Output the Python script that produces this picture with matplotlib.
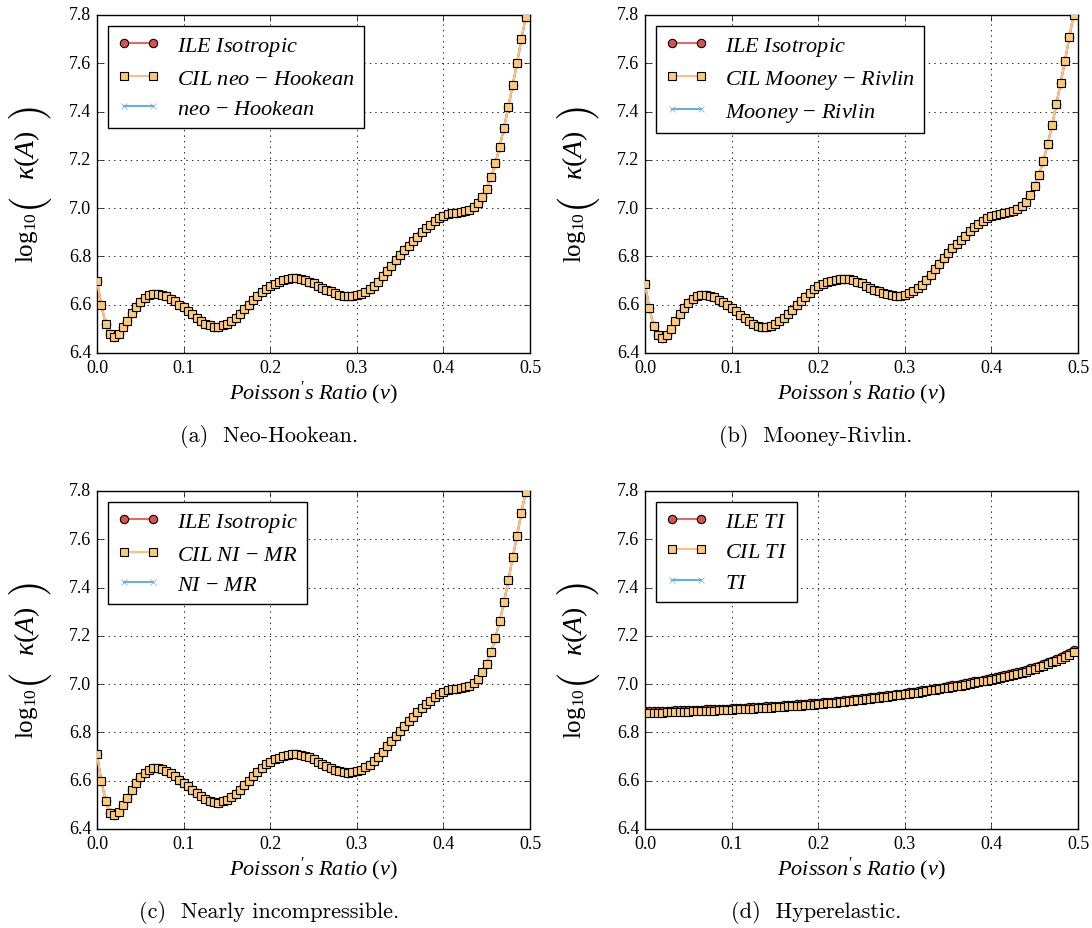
import numpy as np
import matplotlib
matplotlib.use("Agg")
import matplotlib.pyplot as plt

plt.style.use("classic")
plt.rcParams["font.family"] = ["Liberation Serif", "DejaVu Serif"]
plt.rcParams["mathtext.fontset"] = "custom"
plt.rcParams["mathtext.rm"] = "Liberation Serif"
plt.rcParams["mathtext.it"] = "Liberation Serif:italic"
plt.rcParams["mathtext.bf"] = "Liberation Serif:bold"
plt.rcParams["figure.facecolor"] = "white"
plt.rcParams["savefig.facecolor"] = "white"

# Poisson's ratio grid (0 .. 0.495, step 0.005)
nu = np.round(np.arange(100) * 0.005, 3)

# log10 condition numbers
kappa_neo = [
    6.700, 6.597, 6.520, 6.478, 6.467, 6.478, 6.506, 6.533, 6.564, 6.592,
    6.611, 6.628, 6.639, 6.645, 6.646, 6.642, 6.635, 6.625, 6.614, 6.600,
    6.589, 6.575, 6.561, 6.547, 6.533, 6.522, 6.514, 6.508, 6.508, 6.514,
    6.522, 6.533, 6.545, 6.562, 6.581, 6.600, 6.620, 6.636, 6.653, 6.667,
    6.678, 6.686, 6.695, 6.703, 6.707, 6.710, 6.710, 6.707, 6.703, 6.696,
    6.689, 6.679, 6.671, 6.663, 6.656, 6.649, 6.642, 6.638, 6.635, 6.636,
    6.639, 6.646, 6.654, 6.664, 6.678, 6.695, 6.718, 6.740, 6.762, 6.784,
    6.805, 6.825, 6.845, 6.863, 6.881, 6.900, 6.917, 6.931, 6.947, 6.958,
    6.967, 6.974, 6.978, 6.981, 6.983, 6.988, 6.993, 7.004, 7.020, 7.046,
    7.081, 7.127, 7.186, 7.254, 7.333, 7.420, 7.510, 7.600, 7.700, 7.790,
]
kappa_mr = [
    6.686, 6.586, 6.512, 6.473, 6.461, 6.475, 6.500, 6.531, 6.560, 6.586,
    6.607, 6.624, 6.635, 6.640, 6.641, 6.638, 6.631, 6.621, 6.610, 6.597,
    6.585, 6.572, 6.558, 6.545, 6.532, 6.521, 6.513, 6.508, 6.508, 6.513,
    6.521, 6.532, 6.545, 6.561, 6.580, 6.598, 6.617, 6.634, 6.650, 6.664,
    6.676, 6.685, 6.693, 6.700, 6.704, 6.707, 6.707, 6.705, 6.701, 6.695,
    6.688, 6.679, 6.671, 6.663, 6.656, 6.649, 6.643, 6.639, 6.637, 6.638,
    6.641, 6.648, 6.657, 6.668, 6.683, 6.701, 6.724, 6.747, 6.770, 6.792,
    6.813, 6.833, 6.852, 6.869, 6.886, 6.904, 6.920, 6.934, 6.948, 6.958,
    6.966, 6.972, 6.976, 6.980, 6.984, 6.990, 6.996, 7.008, 7.026, 7.053,
    7.090, 7.137, 7.196, 7.265, 7.343, 7.430, 7.520, 7.610, 7.710, 7.800,
]
kappa_nimr = [
    6.710, 6.598, 6.515, 6.468, 6.458, 6.470, 6.500, 6.530, 6.562, 6.592,
    6.615, 6.633, 6.645, 6.651, 6.652, 6.648, 6.641, 6.630, 6.618, 6.604,
    6.591, 6.577, 6.563, 6.549, 6.535, 6.524, 6.516, 6.510, 6.509, 6.514,
    6.522, 6.533, 6.546, 6.562, 6.581, 6.600, 6.620, 6.637, 6.654, 6.668,
    6.679, 6.688, 6.696, 6.704, 6.708, 6.711, 6.711, 6.708, 6.704, 6.697,
    6.689, 6.679, 6.670, 6.661, 6.653, 6.646, 6.640, 6.636, 6.634, 6.635,
    6.639, 6.646, 6.655, 6.666, 6.680, 6.698, 6.720, 6.742, 6.764, 6.786,
    6.807, 6.827, 6.847, 6.865, 6.883, 6.901, 6.918, 6.932, 6.947, 6.958,
    6.967, 6.974, 6.978, 6.981, 6.984, 6.988, 6.994, 7.005, 7.022, 7.049,
    7.085, 7.132, 7.191, 7.260, 7.340, 7.430, 7.525, 7.615, 7.710, 7.795,
]
kappa_ti = [
    6.880, 6.881, 6.881, 6.882, 6.882, 6.883, 6.884, 6.884, 6.885, 6.885,
    6.886, 6.887, 6.887, 6.888, 6.889, 6.889, 6.890, 6.891, 6.892, 6.893,
    6.894, 6.895, 6.896, 6.897, 6.898, 6.899, 6.900, 6.901, 6.902, 6.903,
    6.904, 6.905, 6.906, 6.908, 6.909, 6.910, 6.911, 6.913, 6.914, 6.915,
    6.917, 6.918, 6.920, 6.922, 6.923, 6.925, 6.927, 6.929, 6.931, 6.933,
    6.935, 6.937, 6.939, 6.941, 6.943, 6.945, 6.948, 6.950, 6.953, 6.955,
    6.958, 6.960, 6.963, 6.965, 6.968, 6.971, 6.974, 6.977, 6.980, 6.982,
    6.985, 6.988, 6.991, 6.994, 6.998, 7.001, 7.004, 7.008, 7.011, 7.015,
    7.018, 7.022, 7.026, 7.030, 7.034, 7.039, 7.043, 7.048, 7.052, 7.058,
    7.064, 7.070, 7.076, 7.083, 7.090, 7.097, 7.105, 7.113, 7.122, 7.132,
]
kappa_ile_ti = [
    6.887, 6.887, 6.888, 6.888, 6.889, 6.889, 6.890, 6.891, 6.891, 6.892,
    6.892, 6.893, 6.894, 6.894, 6.895, 6.896, 6.897, 6.897, 6.898, 6.899,
    6.900, 6.901, 6.902, 6.903, 6.904, 6.905, 6.906, 6.907, 6.908, 6.909,
    6.910, 6.911, 6.913, 6.914, 6.915, 6.916, 6.918, 6.919, 6.920, 6.922,
    6.923, 6.925, 6.926, 6.928, 6.930, 6.931, 6.933, 6.935, 6.937, 6.939,
    6.941, 6.943, 6.945, 6.947, 6.949, 6.952, 6.954, 6.956, 6.959, 6.961,
    6.964, 6.966, 6.969, 6.972, 6.974, 6.977, 6.980, 6.983, 6.986, 6.989,
    6.992, 6.995, 6.998, 7.001, 7.004, 7.008, 7.011, 7.015, 7.018, 7.022,
    7.025, 7.029, 7.033, 7.037, 7.041, 7.046, 7.050, 7.055, 7.059, 7.065,
    7.071, 7.077, 7.083, 7.090, 7.097, 7.104, 7.112, 7.120, 7.129, 7.140,
]

panels = [
    ("(a)  Neo-Hookean.", kappa_neo, kappa_neo, kappa_neo,
     [r"$ILE\ Isotropic$", r"$CIL\ neo\,-\,Hookean$", r"$neo\,-\,Hookean$"]),
    ("(b)  Mooney-Rivlin.", kappa_mr, kappa_mr, kappa_mr,
     [r"$ILE\ Isotropic$", r"$CIL\ Mooney\,-\,Rivlin$", r"$Mooney\,-\,Rivlin$"]),
    ("(c)  Nearly incompressible.", kappa_nimr, kappa_nimr, kappa_nimr,
     [r"$ILE\ Isotropic$", r"$CIL\ NI\,-\,MR$", r"$NI\,-\,MR$"]),
    ("(d)  Hyperelastic.", kappa_ile_ti, kappa_ti, kappa_ti,
     [r"$ILE\ TI$", r"$CIL\ TI$", r"$TI$"]),
]

W, H = 1092, 929
fig = plt.figure(figsize=(W / 100, H / 100), dpi=100)

# axes boxes in pixels: left, top, right, bottom
boxes = [(97, 16, 530, 354), (645, 16, 1078, 354),
         (97, 492, 530, 830), (645, 492, 1078, 830)]
caption_x = [269, 816]
caption_y = [437, 913]


def ylabel_pieces(l, t, b):
    # log10( kappa(A) ) with tall outer parentheses, drawn bottom to top
    xc = (l - 70) / W
    yc = (t + b) / 2
    parts = [
        (r"$\log_{10}$", 18, None, yc + 53),
        ("(", 31, "cmr10", yc + 15),
        (r"$\kappa(A)$", 20, None, yc - 30),
        (")", 31, "cmr10", yc - 75),
    ]
    for s, size, fam, y in parts:
        kw = {"family": fam} if fam else {}
        fig.text(xc, 1 - y / H, s, rotation=90, fontsize=size,
                 ha="center", va="center", **kw)


for i, (caption, ile, cil, base, labels) in enumerate(panels):
    l, t, r, b = boxes[i]
    ax = fig.add_axes([l / W, 1 - b / H, (r - l) / W, (b - t) / H])

    ax.plot(nu, base, "-x", color="#6baed6", mec="#6baed6", ms=5, lw=1.5,
            label=labels[2], zorder=2)
    ax.plot(nu, ile, "-o", color="#e06a64", mfc="#d45550", mec="k",
            ms=6, mew=0.8, lw=1.5, label=labels[0], zorder=3)
    ax.plot(nu, cil, "-s", color="#fdc27a", mfc="#fdc97a", mec="k",
            ms=6, mew=0.8, lw=1.5, label=labels[1], zorder=4)

    ax.set_xlim(0, 0.5)
    ax.set_ylim(6.4, 7.8)
    ax.set_xticks([0.0, 0.1, 0.2, 0.3, 0.4, 0.5])
    ax.set_yticks([6.4, 6.6, 6.8, 7.0, 7.2, 7.4, 7.6, 7.8])
    ax.tick_params(labelsize=13)
    ax.grid(True, color="k", linestyle=":", linewidth=0.6)
    ax.set_axisbelow(True)

    ax.set_xlabel(r"$Poisson's\ Ratio\ (\nu)$", fontsize=16, labelpad=2)
    ylabel_pieces(l, t, b)

    h, lab = ax.get_legend_handles_labels()
    order = [1, 2, 0]
    leg = ax.legend([h[k] for k in order], [lab[k] for k in order],
                    loc="upper left", fontsize=16, numpoints=2,
                    frameon=True, fancybox=False, borderaxespad=0.5,
                    handlelength=1.9, handletextpad=0.8, labelspacing=0.45)
    leg.get_frame().set_edgecolor("k")
    leg.get_frame().set_linewidth(1.0)

    fig.text(caption_x[i % 2] / W, 1 - caption_y[i // 2] / H, caption,
             ha="center", va="center", fontsize=16, family="cmr10")

fig.savefig("out.png", dpi=100)
